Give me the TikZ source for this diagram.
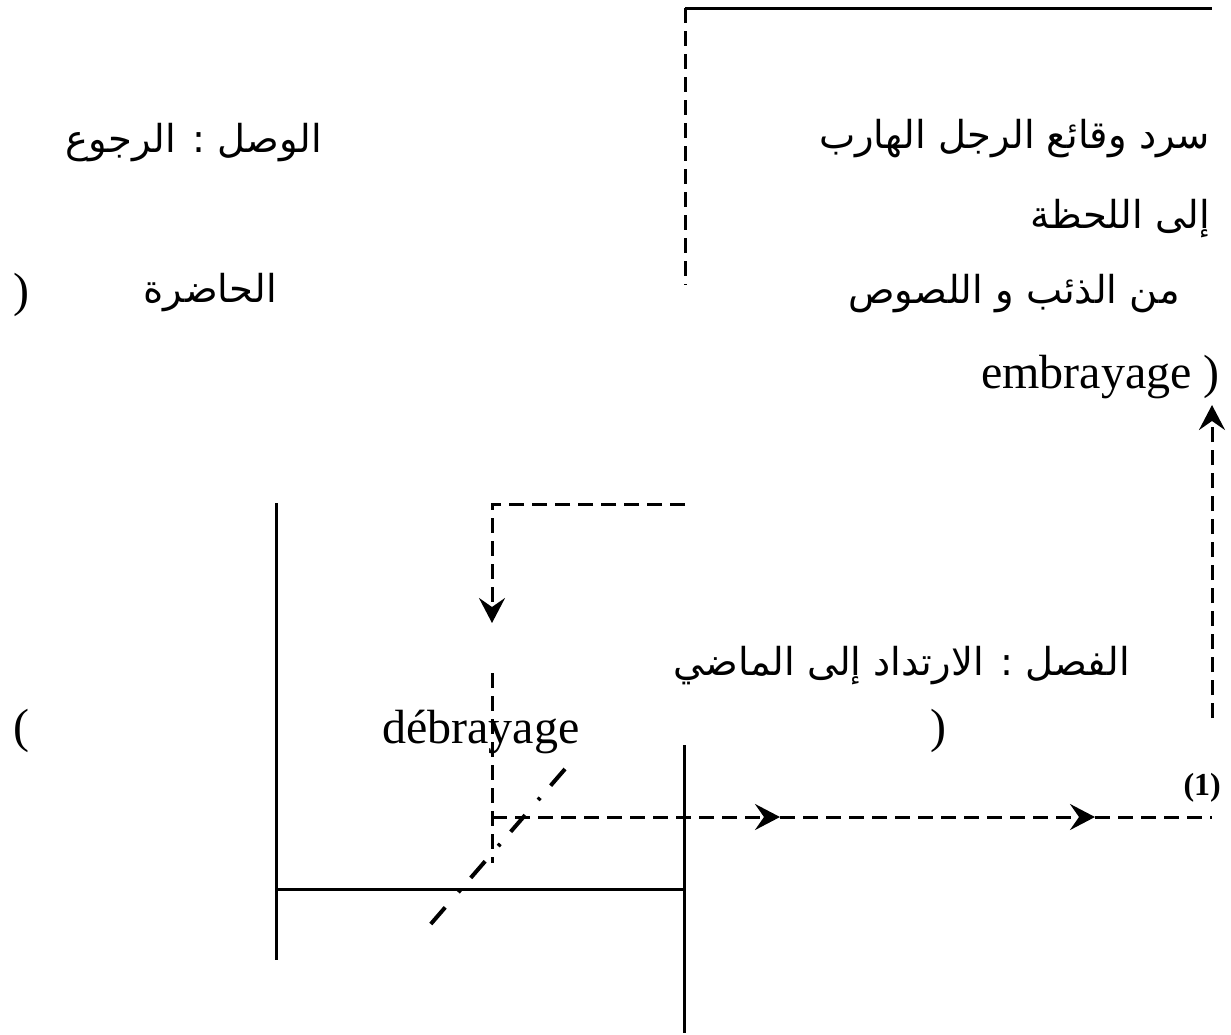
\documentclass[tikz,border=0pt]{standalone}
\usepackage{fontspec}
\setmainfont{Liberation Serif}
\newfontfamily\arabicfont[Script=Arabic]{DejaVu Sans}
\TeXXeTstate=1
\usetikzlibrary{arrows.meta}
\begin{document}
\begin{tikzpicture}[x=1pt,y=-1pt,
  solidline/.style={line width=3pt},
  dashline/.style={line width=3pt,dash pattern=on 15pt off 8pt},
  dotdash/.style={line width=4pt,dash pattern=on 22pt off 16pt on 3pt off 20pt},
  tip/.style={-{Stealth[length=25pt,width=26pt,inset=9pt]}},
  ar/.style={font=\arabicfont\fontsize{38.5}{44}\selectfont,inner sep=0pt},
  lat/.style={font=\fontsize{48}{54}\selectfont,inner sep=0pt},
  every node/.style={inner sep=0pt}]
\useasboundingbox (0,0) rectangle (1231,1034);
% coordinates
\coordinate (topL) at (685,8);
\coordinate (topR) at (1212,8);
\coordinate (topB) at (685,285);
\coordinate (hA) at (685,504);
\coordinate (hB) at (492,504);
\coordinate (hC) at (492,623);
\coordinate (vD) at (492,673);
\coordinate (vE) at (492,863);
\coordinate (mL) at (492,817);
\coordinate (m1) at (780,817);
\coordinate (m2) at (1095,817);
\coordinate (mR) at (1212,817);
\coordinate (uB) at (1212,718);
\coordinate (uT) at (1212,405);
\coordinate (s1t) at (276,503);
\coordinate (s1b) at (276,960);
\coordinate (s2t) at (684,745);
\coordinate (s2b) at (684,1033);
\coordinate (hl) at (276,889);
\coordinate (hr) at (684,889);
\coordinate (dd1) at (565,769);
\coordinate (dd2) at (423,933);
% top frame
\draw[solidline] (topL) -- (topR);
\draw[dashline] (topL) -- (topB);
% texts
\node[ar,anchor=base east] (t1) at (1210,148) {\beginR سرد وقائع الرجل الهارب\endR};
\node[ar,anchor=base east] (t2) at (1210,228) {\beginR إلى اللحظة\endR};
\node[ar,anchor=base east] (t3) at (1180,303) {\beginR من الذئب و اللصوص\endR};
\node[lat,anchor=base east] (t4) at (1220,388) {embrayage )};
\node[ar,anchor=base east] (t5) at (322,152) {\beginR الوصل : الرجوع\endR};
\node[ar,anchor=base east] (t6) at (277,302) {\beginR الحاضرة\endR};
\node[lat,anchor=base west] (t7) at (13,306) {)};
\node[ar,anchor=base east] (t8) at (1130,675) {\beginR الفصل : الارتداد إلى الماضي\endR};
\node[lat,anchor=base west] (t9) at (930,742) {)};
\node[lat,anchor=base west] (t10) at (382,743) {débrayage};
\node[lat,anchor=base west] (t11) at (13,742) {(};
\node[font=\bfseries\fontsize{32}{36}\selectfont,anchor=base east] (t12) at (1221,795) {(1)};
% solid frame lines
\draw[solidline] (s1t) -- (s1b);
\draw[solidline] (s2t) -- (s2b);
\draw[solidline] (hl) -- (hr);
% dashed connectors
\draw[dashline,tip] (hA) -- (hB) -- (hC);
\draw[dashline] (vD) -- (vE);
\draw[dashline,tip] (mL) -- (m1);
\draw[dashline,tip] (m1) -- (m2);
\draw[dashline] (m2) -- (mR);
\draw[dashline,tip] (uB) -- (uT);
% dash-dot diagonal
\draw[dotdash] (dd1) -- (dd2);
\end{tikzpicture}
\end{document}
